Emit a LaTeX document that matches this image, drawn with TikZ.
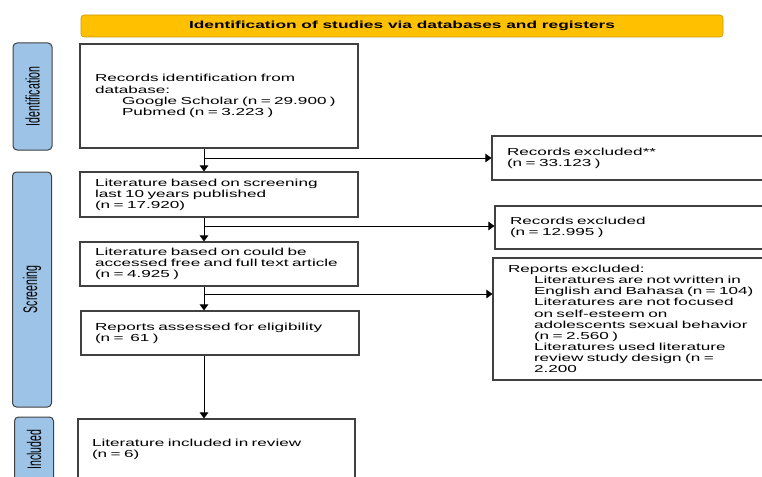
\documentclass[tikz,border=0pt]{standalone}
\usepackage{fontspec}
\setmainfont{Liberation Sans}[FakeStretch=1.68]
\newfontfamily\ladofont{Liberation Sans}
\usetikzlibrary{arrows.meta}

\definecolor{amarelo}{HTML}{FFC000}
\definecolor{azul}{HTML}{9DC3E6}
\definecolor{borda}{HTML}{404040}

\begin{document}
\begin{tikzpicture}[x=1pt, y=-1pt,
        caixa/.style={draw=borda, line width=1.1pt, align=left, inner xsep=15pt, inner ysep=0pt,
            text width=248pt, font=\fontsize{10.2}{11.1}\selectfont},
        lado/.style={draw=borda, fill=azul, line width=1pt, rounded corners=4pt, rotate=90,
            minimum height=39pt, inner sep=0pt, font=\ladofont\fontsize{10.6}{12}\selectfont},
        titulo/.style={draw=amarelo!80!black, fill=amarelo, line width=0.6pt, rounded corners=3pt,
            minimum width=642pt, minimum height=22pt, inner sep=0pt, font=\bfseries\fontsize{10.3}{12}\selectfont},
        seta/.style={-{Triangle[length=6pt,width=8.5pt]}, line width=0.9pt}]
        \useasboundingbox (0,0) rectangle (762,476);

        % Faixa do titulo e rotulos laterais
        \node[titulo] (tit) at (402,26) {Identification of studies via databases and registers};
        \node[lado, minimum width=107pt] (ident) at (32.5,96.5) {\scalebox{1}[1.85]{Identification}};
        \node[lado, minimum width=235pt] (triag) at (32,289.5) {\scalebox{1}[1.85]{Screening}};
        \node[lado, minimum width=65pt] (incl) at (34,449.5) {\scalebox{1}[1.85]{Included}};

        % Caixas principais
        \node[caixa, minimum height=104pt] (rec) at (219,96) {Records identification from\\
            database:\\
            \hspace*{27pt}Google Scholar (n = 29.900 )\\
            \hspace*{27pt}Pubmed (n = 3.223 )};
        \node[caixa, minimum height=45pt] (scr) at (219,194.5) {Literature based on screening\\
            last 10 years published\\
            (n = 17.920)};
        \node[caixa, minimum height=44pt] (ace) at (219,264) {Literature based on could be\\
            accessed free and full text article\\
            (n = 4.925 )};
        \node[caixa, minimum height=44pt, inner xsep=14pt, text width=250pt] (ele) at (220,333) {Reports assessed for eligibility\\
            (n =\ \ 61 )};
        \node[caixa, minimum height=61pt, inner xsep=14pt, text width=249pt] (inc) at (216.5,449.5) {Literature included in review\\
            (n = 6)};

        % Caixas de exclusao
        \node[caixa, minimum height=44pt, text width=260pt] (ex1) at (637,158) {Records excluded**\\
            (n = 33.123 )};
        \node[caixa, minimum height=43pt, text width=260pt] (ex2) at (640,227.5) {Records excluded\\
            (n = 12.995 )};
        \node[caixa, minimum height=122pt, text width=260pt] (ex3) at (638,319) {Reports excluded:\\
            \hspace*{26pt}Literatures are not written in\\
            \hspace*{26pt}English and Bahasa (n = 104)\\
            \hspace*{26pt}Literatures are not focused\\
            \hspace*{26pt}on self-esteem on\\
            \hspace*{26pt}adolescents sexual behavior\\
            \hspace*{26pt}(n = 2.560 )\\
            \hspace*{26pt}Literatures used literature\\
            \hspace*{26pt}review study design (n =\\
            \hspace*{26pt}2.200};

        \coordinate (x1) at (204,158);
        \coordinate (x2) at (204,226);
        \coordinate (x3) at (204,294);

        % Setas
        \draw[seta] (rec.south -| x1) -- (scr.north -| x1);
        \draw[seta] (x1) -- (ex1.west |- x1);
        \draw[seta] (scr.south -| x2) -- (ace.north -| x2);
        \draw[seta] (x2) -- (ex2.west |- x2);
        \draw[seta] (ace.south -| x3) -- (ele.north -| x3);
        \draw[seta] (x3) -- (ex3.west |- x3);
        \draw[seta] (ele.south -| x3) -- (inc.north -| x3);
    \end{tikzpicture}
\end{document}
